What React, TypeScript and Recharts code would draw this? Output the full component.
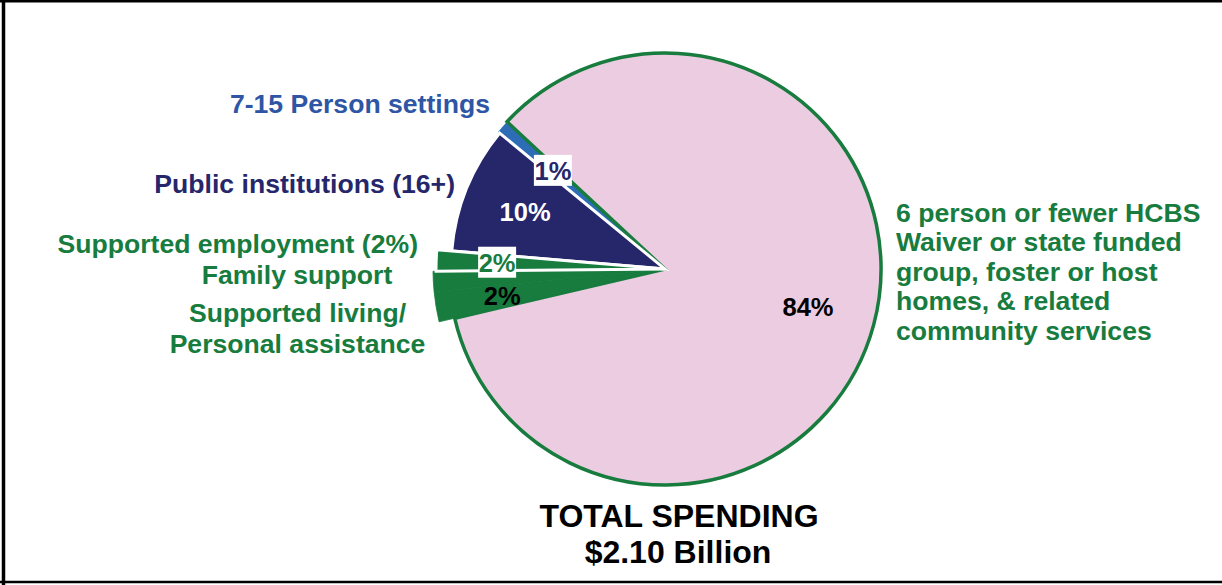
import React from 'react';
import { PieChart, Pie, Cell } from 'recharts';

// ---- data ----
const categories = [
  '6 person or fewer HCBS Waiver or state funded group, foster or host homes, & related community services',
  'Supported living/Personal assistance',
  'Supported employment',
  'Family support',
  'Public institutions (16+)',
  '7-15 Person settings',
];
const shares = [84.4, 2.1, 1.4, 1.5, 9.6, 1.0];
const sliceLabels = ['84%', '2%', '', '2%', '10%', '1%'];
const totalTitle = 'TOTAL SPENDING';
const totalValue = '$2.10 Billion';
const rightLabelLines = [
  '6 person or fewer HCBS',
  'Waiver or state funded',
  'group, foster or host',
  'homes, & related',
  'community services',
];

const pieData = categories.map((name, i) => ({ name, value: shares[i], label: sliceLabels[i] }));

// ---- styles ----
const PINK = '#ECCCE1';
const GREEN = '#177C3E';
const NAVY = '#26266B';
const BLUE = '#2C6DB6';
const FONT = '"Liberation Sans", Arial, Helvetica, sans-serif';
const CX = 665;
const CY = 269;
const START = 137;
const END = START - 360;

type Layer = { r: number; show: number[]; fill: string; stroke: string; sw: number };
const layers: Layer[] = [
  { r: 216, show: [5], fill: BLUE, stroke: 'none', sw: 0 },
  { r: 216, show: [0], fill: PINK, stroke: GREEN, sw: 3.5 },
  { r: 214, show: [4], fill: NAVY, stroke: '#ffffff', sw: 3 },
  { r: 232, show: [1, 2], fill: GREEN, stroke: GREEN, sw: 0.8 },
  { r: 229, show: [3], fill: GREEN, stroke: '#ffffff', sw: 3 },
];

const labelStyle: Record<number, { r: number; color: string; box: boolean }> = {
  0: { r: 148, color: '#000000', box: false },
  1: { r: 165, color: '#000000', box: false },
  3: { r: 168, color: GREEN, box: true },
  4: { r: 151, color: '#ffffff', box: false },
  5: { r: 149, color: NAVY, box: true },
};

const RAD = Math.PI / 180;

const renderLabel = (props: any) => {
  const { cx, cy, midAngle, index } = props;
  const text = sliceLabels[index];
  const st = labelStyle[index];
  if (!text || !st) return null;
  const x = cx + st.r * Math.cos(midAngle * RAD);
  const y = cy - st.r * Math.sin(midAngle * RAD);
  return (
    <g key={`lbl-${index}`}>
      {st.box && <rect x={x - 19} y={y - 16} width={38} height={31} fill="#ffffff" />}
      <text
        x={x}
        y={y + 9}
        textAnchor="middle"
        fill={st.color}
        fontFamily={FONT}
        fontWeight="bold"
        fontSize={25.5}
      >
        {text}
      </text>
    </g>
  );
};

const txt = (color: string, size = 26.6) => ({
  fill: color,
  fontFamily: FONT,
  fontWeight: 'bold' as const,
  fontSize: size,
});

export default function App() {
  return (
    <div style={{ position: 'absolute', left: 0, top: 0, width: 1222, height: 585, background: '#fff', overflow: 'hidden' }}>
      <PieChart width={1222} height={585} margin={{ top: 0, right: 0, bottom: 0, left: 0 }}>
        {layers.map((L, li) => (
          <Pie
            key={li}
            data={pieData}
            dataKey="value"
            nameKey="name"
            cx={CX}
            cy={CY}
            outerRadius={L.r}
            innerRadius={0}
            startAngle={START}
            endAngle={END}
            isAnimationActive={false}
            labelLine={false}
            label={false}
          >
            {pieData.map((d, i) => {
              const on = L.show.includes(i);
              return (
                <Cell
                  key={i}
                  fill={on ? L.fill : 'none'}
                  stroke={on ? L.stroke : 'none'}
                  strokeWidth={on ? L.sw : 0}
                />
              );
            })}
          </Pie>
        ))}
        <Pie
          data={pieData}
          dataKey="value"
          nameKey="name"
          cx={CX}
          cy={CY}
          outerRadius={216}
          startAngle={START}
          endAngle={END}
          isAnimationActive={false}
          labelLine={false}
          label={renderLabel}
        >
          {pieData.map((d, i) => (
            <Cell key={i} fill="none" stroke="none" />
          ))}
        </Pie>
      </PieChart>
      <svg
        width={1222}
        height={585}
        style={{ position: 'absolute', left: 0, top: 0, pointerEvents: 'none' }}
      >
        <line x1={0} y1={1.3} x2={1222} y2={1.3} stroke="#000" strokeWidth={2.6} />
        <line x1={3.5} y1={0} x2={3.5} y2={585} stroke="#000" strokeWidth={3.5} />
        <line x1={0} y1={582} x2={1222} y2={582} stroke="#000" strokeWidth={2.7} />

        <text x={490} y={113} textAnchor="end" {...txt('#2F55A5')}>{categories[5]}</text>
        <text x={455} y={193} textAnchor="end" {...txt(NAVY)}>{categories[4]}</text>
        <text x={418} y={253} textAnchor="end" {...txt(GREEN)}>{`${categories[2]} (2%)`}</text>
        <text x={297} y={284} textAnchor="middle" {...txt(GREEN)}>{categories[3]}</text>
        <text x={297.5} y={322} textAnchor="middle" {...txt(GREEN)}>{categories[1].split('/')[0] + '/'}</text>
        <text x={297.5} y={353} textAnchor="middle" {...txt(GREEN)}>{categories[1].split('/')[1]}</text>

        {rightLabelLines.map((line, i) => (
          <text key={i} x={896} y={221.5 + i * 29.5} {...txt(GREEN)}>{line}</text>
        ))}

        <text x={679} y={527} textAnchor="middle" {...txt('#000', 32)}>{totalTitle}</text>
        <text x={678} y={563} textAnchor="middle" {...txt('#000', 32)}>{totalValue}</text>
      </svg>
    </div>
  );
}
